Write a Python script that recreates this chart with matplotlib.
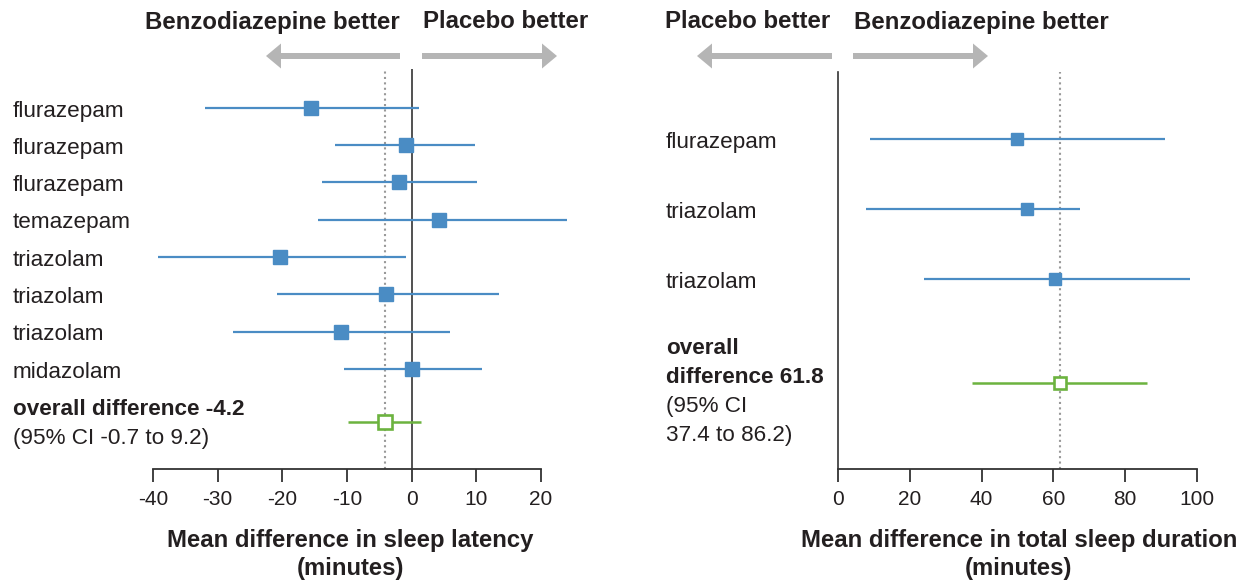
import matplotlib.pyplot as plt
from matplotlib.patches import FancyArrow
from matplotlib import transforms

plt.rcParams['font.family'] = ['Liberation Sans', 'DejaVu Sans']
plt.rcParams['text.color'] = '#231f20'

# sleep latency (left panel)
left_names = ['flurazepam', 'flurazepam', 'flurazepam', 'temazepam',
              'triazolam', 'triazolam', 'triazolam', 'midazolam']
left_md = [-15.5, -0.9, -1.9, 4.3, -20.4, -3.9, -11.0, 0.0]
left_lo = [-31.9, -11.8, -13.8, -14.5, -39.3, -20.9, -27.6, -10.5]
left_hi = [1.1, 9.8, 10.1, 24.0, -0.8, 13.5, 6.0, 10.8]
left_overall = -4.2
left_overall_ci = [-9.8, 1.5]
left_ticks = [-40, -30, -20, -10, 0, 10, 20]

# total sleep duration (right panel)
right_names = ['flurazepam', 'triazolam', 'triazolam']
right_md = [49.8, 52.6, 60.4]
right_lo = [9.0, 7.8, 24.0]
right_hi = [91.2, 67.4, 98.1]
right_overall = 61.8
right_overall_ci = [37.4, 86.2]
right_ticks = [0, 20, 40, 60, 80, 100]

blue = '#4a8cc4'
green = '#6cb33f'
grey = '#b5b5b5'
dark = '#333333'

W, H = 1248, 580
fig = plt.figure(figsize=(W / 100, H / 100), dpi=100)


def make_axes(px_left, px_right, px_top, px_bottom, x0, x1, px0, px1,
              row0, spacing):
    # axes placed in pixels, x scale fixed by where two ticks sit
    per = (px1 - px0) / (x1 - x0)
    ax = fig.add_axes([px_left / W, 1 - px_bottom / H,
                       (px_right - px_left) / W, (px_bottom - px_top) / H])
    ax.set_xlim(x0 - (px0 - px_left) / per, x1 + (px_right - px1) / per)
    ax.set_ylim((px_bottom - row0) / spacing, -(row0 - px_top) / spacing)
    ax.patch.set_alpha(0)
    for s in ['top', 'right']:
        ax.spines[s].set_visible(False)
    ax.spines['bottom'].set_bounds(x0, x1)
    ax.spines['bottom'].set_color(dark)
    ax.spines['bottom'].set_linewidth(1.3)
    ax.set_yticks([])
    ax.tick_params(axis='x', length=9, width=1.3, color=dark, pad=6,
                   labelsize=15, labelcolor='#231f20')
    return ax


# ---- left panel
L_ROW0, L_SP = 107.7, 37.3
axL = make_axes(140, 600, 69, 469, -40, 20, 153, 541, L_ROW0, L_SP)
axL.spines['left'].set_visible(False)
axL.set_xticks(left_ticks)
axL.set_xticklabels([str(t) for t in left_ticks])
axL.axvline(0, color=dark, lw=1.2, zorder=1)
axL.axvline(left_overall, color='#999999', lw=1.5, ls=(0, (1, 1.6)), zorder=1)
ys = list(range(len(left_names)))
axL.hlines(ys, left_lo, left_hi, color=blue, lw=1.6, zorder=2)
axL.plot(left_md, ys, 's', ms=9.4, color=blue, zorder=3, lw=0)
yo = (421.7 - L_ROW0) / L_SP
axL.hlines([yo], [left_overall_ci[0]], [left_overall_ci[1]], color=green, lw=1.8, zorder=2)
axL.plot([left_overall], [yo], 's', ms=9.4, mfc='white', mec=green, mew=1.9, zorder=3)

# ---- right panel
R_ROW0, R_SP = 139.3, 70.0
axR = make_axes(838, 1215, 72, 469, 0, 100, 838, 1197, R_ROW0, R_SP)
axR.spines['left'].set_color(dark)
axR.spines['left'].set_linewidth(1.2)
axR.set_xticks(right_ticks)
axR.set_xticklabels([str(t) for t in right_ticks])
axR.axvline(right_overall, color='#999999', lw=1.5, ls=(0, (1, 1.6)), zorder=1)
ys = list(range(len(right_names)))
axR.hlines(ys, right_lo, right_hi, color=blue, lw=1.6, zorder=2)
axR.plot(right_md, ys, 's', ms=8.0, color=blue, zorder=3, lw=0)
yo = (383 - R_ROW0) / R_SP
axR.hlines([yo], [right_overall_ci[0]], [right_overall_ci[1]], color=green, lw=1.8, zorder=2)
axR.plot([right_overall], [yo], 's', ms=8.6, mfc='white', mec=green, mew=1.9, zorder=3)

# ---- overlay in pixel units for labels, headers, arrows
ov = fig.add_axes([0, 0, 1, 1])
ov.set_xlim(0, W)
ov.set_ylim(H, 0)
ov.set_axis_off()

tL = transforms.blended_transform_factory(ov.transData, axL.transData)
tR = transforms.blended_transform_factory(ov.transData, axR.transData)
for i, name in enumerate(left_names):
    ov.text(13, i + 8.8 / L_SP, name, transform=tL, fontsize=16.2, va='baseline')
for i, name in enumerate(right_names):
    ov.text(666, i + 8.4 / R_SP, name, transform=tR, fontsize=16.2, va='baseline')

ov.text(13, 415, 'overall difference -4.2', fontsize=16.2, fontweight='bold', va='baseline')
ov.text(13, 444, '(95% CI -0.7 to 9.2)', fontsize=16.2, va='baseline')
ov.text(666, 354, 'overall', fontsize=16.2, fontweight='bold', va='baseline')
ov.text(666, 383, 'difference 61.8', fontsize=16.2, fontweight='bold', va='baseline')
ov.text(666, 412, '(95% CI', fontsize=16.2, va='baseline')
ov.text(666, 441, '37.4 to 86.2)', fontsize=16.2, va='baseline')

ov.text(350, 540, 'Mean difference in sleep latency', fontsize=17.2,
        fontweight='bold', ha='center', va='center')
ov.text(350, 568, '(minutes)', fontsize=17.2, fontweight='bold', ha='center', va='center')
ov.text(1019, 540, 'Mean difference in total sleep duration', fontsize=17.2,
        fontweight='bold', ha='center', va='center')
ov.text(1019, 568, '(minutes)', fontsize=17.2, fontweight='bold', ha='center', va='center')

ov.text(272, 22, 'Benzodiazepine better', fontsize=17.3, fontweight='bold', ha='center', va='center')
ov.text(506, 22, 'Placebo better', fontsize=17.3, fontweight='bold', ha='center', va='center')
ov.text(748, 22, 'Placebo better', fontsize=17.3, fontweight='bold', ha='center', va='center')
ov.text(981, 22, 'Benzodiazepine better', fontsize=17.3, fontweight='bold', ha='center', va='center')

for x_start, x_end in [(400, 266), (422, 557), (832, 697), (853, 988)]:
    ov.add_patch(FancyArrow(x_start, 56, x_end - x_start, 0, width=6,
                            head_width=25, head_length=15,
                            length_includes_head=True, color=grey, lw=0))

fig.savefig('out.png', dpi=100)
